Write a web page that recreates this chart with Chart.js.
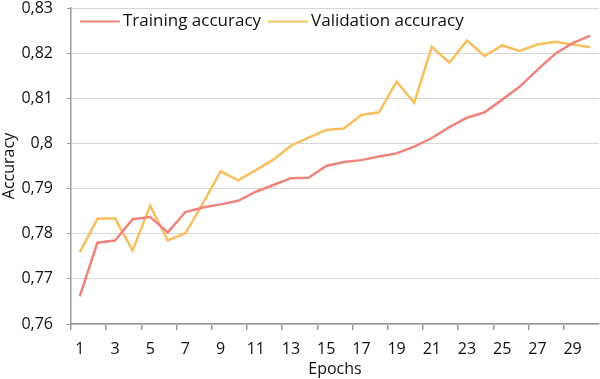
<!DOCTYPE html>
<html>
<head>
<meta charset="utf-8">
<script src="https://cdn.jsdelivr.net/npm/chart.js@4/dist/chart.umd.min.js"></script>
<style>
html,body{margin:0;padding:0;background:#fff;}
#wrap{width:600px;height:379px;}
</style>
</head>
<body>
<div id="wrap"><canvas id="c" width="600" height="379"></canvas></div>
<script>
const epochs = Array.from({length: 30}, (_, i) => String(i + 1));
const trainingAccuracy = [0.7661, 0.7780, 0.7785, 0.7832, 0.7837, 0.7803, 0.7848, 0.7858, 0.7865, 0.7873,
  0.7893, 0.7908, 0.7923, 0.7924, 0.7950, 0.7959, 0.7963, 0.7971, 0.7978, 0.7993,
  0.8012, 0.8036, 0.8057, 0.8069, 0.8097, 0.8126, 0.8163, 0.8198, 0.8222, 0.8239];
const validationAccuracy = [0.7759, 0.7833, 0.7834, 0.7763, 0.7862, 0.7785, 0.7801, 0.7868, 0.7938, 0.7918,
  0.7941, 0.7964, 0.7995, 0.8013, 0.8030, 0.8033, 0.8063, 0.8069, 0.8137, 0.8090,
  0.8214, 0.8179, 0.8228, 0.8194, 0.8217, 0.8205, 0.8219, 0.8225, 0.8219, 0.8213];
const seriesNames = ['Training accuracy', 'Validation accuracy'];
const yMin = 0.76, yMax = 0.83, yStep = 0.01;

const FONT = "'Open Sans', 'Noto Sans', sans-serif";
const axisGrey = '#9a9a9a';
const trainColor = '#ef847c';
const valColor = '#f8bf5e';

const inlineLegend = {
  id: 'inlineLegend',
  afterDatasetsDraw(chart) {
    const { ctx, chartArea } = chart;
    ctx.save();
    ctx.font = "17px " + FONT;
    ctx.textBaseline = 'middle';
    ctx.textAlign = 'left';
    let x = chartArea.left + 9;
    const y = chartArea.top + 13.5;
    chart.data.datasets.forEach((ds) => {
      ctx.strokeStyle = ds.borderColor;
      ctx.lineWidth = 2;
      ctx.beginPath();
      ctx.moveTo(x, y);
      ctx.lineTo(x + 40, y);
      ctx.stroke();
      x += 43;
      ctx.fillStyle = '#111';
      ctx.fillText(ds.label, x, y);
      x += ctx.measureText(ds.label).width + 7;
    });
    ctx.restore();
  }
};

new Chart(document.getElementById('c'), {
  type: 'line',
  data: {
    labels: epochs,
    datasets: [
      { label: seriesNames[0], data: trainingAccuracy, borderColor: trainColor, backgroundColor: trainColor,
        borderWidth: 2.5, pointRadius: 0, tension: 0, fill: false },
      { label: seriesNames[1], data: validationAccuracy, borderColor: valColor, backgroundColor: valColor,
        borderWidth: 2.5, pointRadius: 0, tension: 0, fill: false }
    ]
  },
  plugins: [inlineLegend],
  options: {
    responsive: false,
    animation: false,
    devicePixelRatio: 1,
    layout: { padding: { top: 8, right: 1, left: 0, bottom: 0 } },
    plugins: {
      tooltip: { enabled: false },
      legend: { display: false }
    },
    scales: {
      x: {
        type: 'category',
        offset: true,
        afterFit: (scale) => { scale.height = 55; scale.paddingLeft = 0; scale.paddingRight = 0; },
        border: { display: true, color: axisGrey, width: 1.5 },
        grid: {
          offset: true,
          drawOnChartArea: false,
          drawTicks: true,
          tickLength: 6,
          tickColor: (ctx) => (ctx.index % 2 === 0 ? axisGrey : 'rgba(0,0,0,0)'),
          lineWidth: 1.5
        },
        ticks: {
          autoSkip: false,
          maxRotation: 0,
          color: '#111',
          font: { family: FONT, size: 16 },
          padding: 10,
          callback: function (value, index) { return index % 2 === 0 ? this.getLabelForValue(value) : ''; }
        },
        title: { display: true, text: 'Epochs', color: '#111', font: { family: FONT, size: 16 }, padding: { top: 0, bottom: 0 } }
      },
      y: {
        min: yMin,
        max: yMax,
        afterFit: (scale) => { scale.width = 71; scale.paddingTop = 0; scale.paddingBottom = 0; },
        border: { display: true, color: axisGrey, width: 1.5 },
        grid: {
          color: '#d6d6d6',
          lineWidth: 1,
          tickLength: 4,
          tickColor: axisGrey,
          tickBorderDash: [],
          borderDash: [2, 2]
        },
        ticks: {
          stepSize: yStep,
          color: '#111',
          font: { family: FONT, size: 16, lineHeight: 1 },
          padding: 14,
          callback: (v) => parseFloat(v.toFixed(2)).toString().replace('.', ',')
        },
        title: { display: true, text: 'Accuracy', color: '#111', font: { family: FONT, size: 16 }, padding: { top: 0, bottom: 0 } }
      }
    }
  }
});
</script>
</body>
</html>
